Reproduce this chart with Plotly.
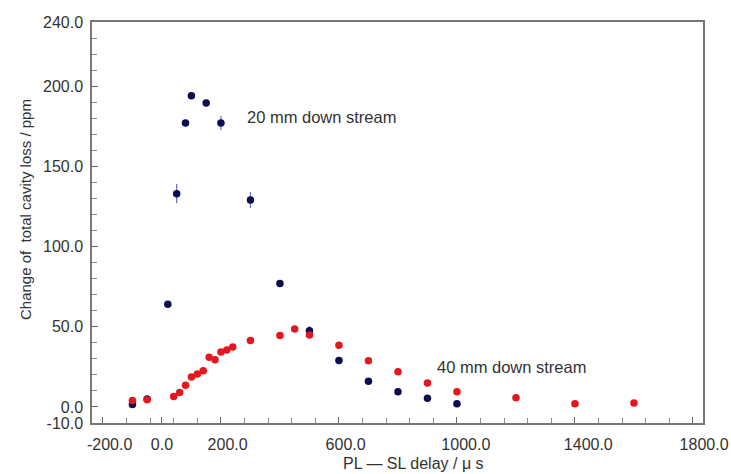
import plotly.graph_objects as go

# 20 mm down stream (blue)
x20 = [-100, -50, 20, 50, 80, 100, 150, 200, 300, 400, 500, 600, 700, 800, 900, 1000]
y20 = [1.5, 5.0, 64.0, 133.0, 177.0, 194.0, 189.5, 177.0, 129.0, 77.0, 47.5, 29.0, 16.0, 9.5, 5.5, 2.0]
e20 = [0.0, 0.0, 0.0, 6.0, 1.0, 0.0, 0.0, 4.5, 5.0, 0.0, 3.0, 0.0, 0.0, 0.0, 0.0, 0.0]

# 40 mm down stream (red)
x40 = [-100, -50, 40, 60, 80, 100, 120, 140, 160, 180, 200, 220, 240, 300, 400, 450, 500,
       600, 700, 800, 900, 1000, 1200, 1400, 1600]
y40 = [4.0, 4.5, 6.5, 9.0, 13.5, 18.7, 20.5, 22.5, 31.0, 29.5, 34.3, 35.5, 37.4, 41.5, 44.5,
       48.6, 44.8, 38.5, 28.8, 22.0, 15.0, 9.5, 5.7, 2.0, 2.5]

NB = "\u00a0"
xticks = [-200, 0, 200, 600, 1000, 1400, 1800]
xticklabels = [NB * 3 + "-200.0", "0.0", NB * 3 + "200.0", NB * 3 + "600.0",
               NB * 4 + "1000.0", NB * 6 + "1400.0", NB * 5 + "1800.0"]
yticks = [-10, 0, 50, 100, 150, 200, 240]
yticklabels = ["-10.0", "0.0", "50.0", "100.0", "150.0", "200.0", "240.0"]

font = "Liberation Sans, Arial, sans-serif"
txt = "#333333"

L, R, T, B = 92, 28, 22, 51
W, H = 731, 474
PW, PH = W - L - R, H - T - B

fig = go.Figure()
fig.add_trace(go.Scatter(
    x=x20, y=y20, mode="markers",
    marker=dict(color="#0c0c52", size=7.5, line=dict(width=0)),
    error_y=dict(type="data", array=e20, visible=True, color="#6a6ac0", thickness=1.2, width=0),
    showlegend=False))
fig.add_trace(go.Scatter(
    x=x40, y=y40, mode="markers",
    marker=dict(color="#e5161e", size=7.5, line=dict(width=0)),
    showlegend=False))

fig.add_annotation(x=281, y=181, xref="x", yref="y", text="20 mm down stream",
                   showarrow=False, xanchor="left", yanchor="middle",
                   font=dict(family=font, size=16.5, color=txt))
fig.add_annotation(x=925, y=25, xref="x", yref="y", text="40 mm down stream",
                   showarrow=False, xanchor="left", yanchor="middle",
                   font=dict(family=font, size=16.5, color=txt))

# axis titles (placed as in the reference)
fig.add_annotation(x=(25 - L) / PW, y=(H - B - 210) / PH, xref="paper", yref="paper",
                   text="Change of  total cavity loss / ppm", textangle=-90, showarrow=False,
                   xanchor="center", yanchor="middle",
                   font=dict(family=font, size=15, color=txt))
fig.add_annotation(x=(413 - L) / PW, y=(H - B - 463) / PH, xref="paper", yref="paper",
                   text="PL \u2014 SL delay / \u03bc s", showarrow=False,
                   xanchor="center", yanchor="middle",
                   font=dict(family=font, size=16, color=txt))

fig.update_layout(
    width=W, height=H,
    margin=dict(l=L, r=R, t=T, b=B, autoexpand=False),
    paper_bgcolor="white", plot_bgcolor="white",
    font=dict(family=font, size=16, color=txt),
    xaxis=dict(
        range=[-237, 1834], tickmode="array", tickvals=xticks, ticktext=xticklabels,
        ticks="inside", ticklen=6, tickcolor="#666666", showgrid=False, zeroline=False,
        showline=True, linecolor="#777777", linewidth=1.5, mirror=True, automargin=False,
        minor=dict(tick0=-200, dtick=80, ticks="inside", ticklen=5, tickcolor="#888888", showgrid=False),
        tickfont=dict(size=16), ticklabelstandoff=6,
    ),
    yaxis=dict(
        range=[-10, 240], tickmode="array", tickvals=yticks, ticktext=yticklabels,
        ticks="inside", ticklen=6, tickcolor="#666666", showgrid=False, zeroline=False,
        showline=True, linecolor="#777777", linewidth=1.5, mirror=True, automargin=False,
        minor=dict(tick0=0, dtick=10, ticks="inside", ticklen=5, tickcolor="#888888", showgrid=False),
        tickfont=dict(size=16), ticklabelstandoff=4,
    ),
)

fig.write_html("out.html", config={"displayModeBar": False},
               post_script="document.body.style.margin='0';document.body.style.overflow='hidden';")
